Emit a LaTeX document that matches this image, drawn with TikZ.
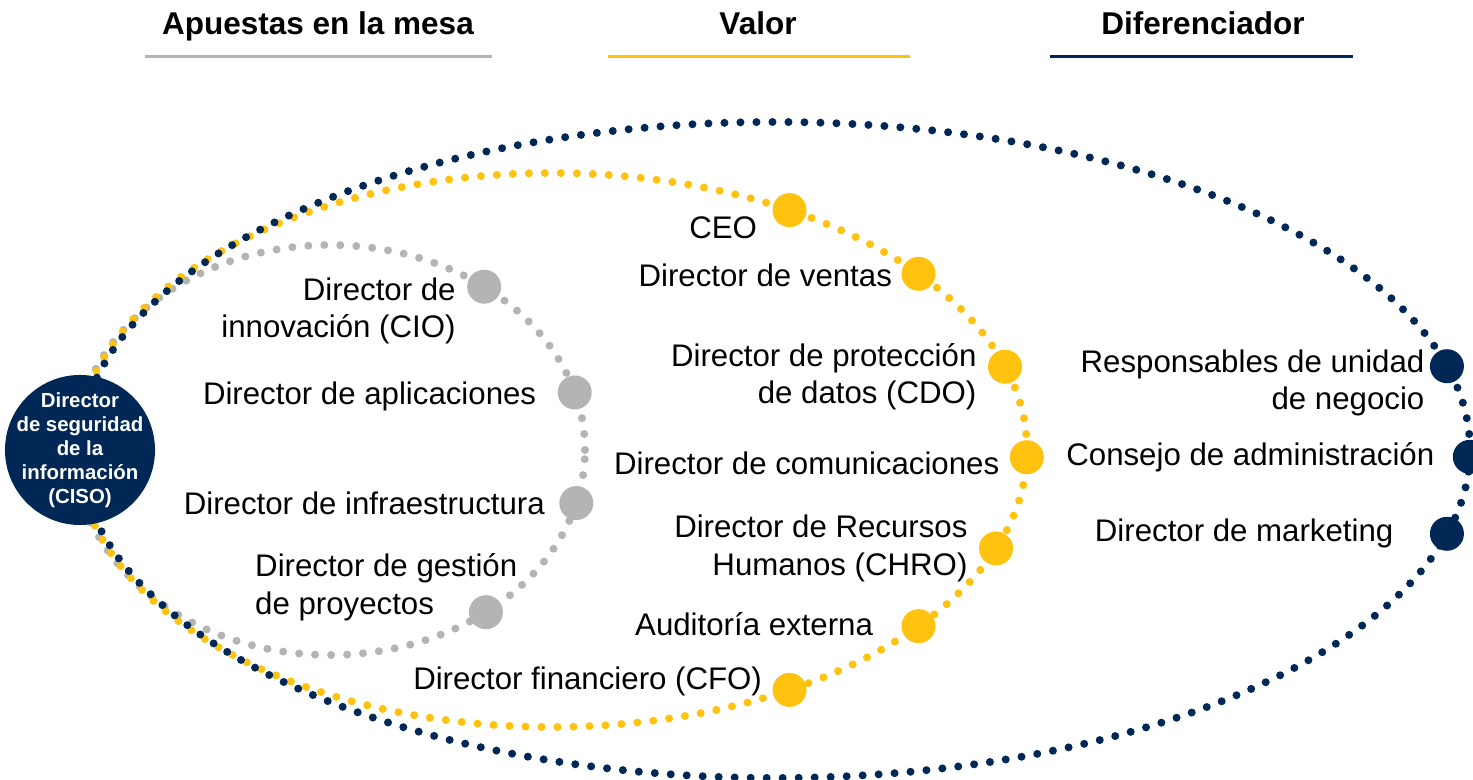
\documentclass[tikz,border=0pt]{standalone}
\usepackage{fontspec}
\setmainfont{Liberation Sans}
\usetikzlibrary{positioning,calc}
\definecolor{navy}{HTML}{002856}
\definecolor{gold}{HTML}{FFC20E}
\definecolor{silver}{HTML}{B4B4B4}

\begin{document}
\begin{tikzpicture}[x=0.025cm,y=0.025cm,node distance=0.25cm,
                    font=\fontsize{22.2}{26.5}\selectfont]
  \tikzstyle{dots}=[line width=0.2cm,line cap=round,dash pattern=on 0pt off 0.4cm]
  \tikzstyle{dot}=[circle,minimum size=0.85cm,inner sep=0pt,draw=none]
  \tikzstyle{lbl}=[inner sep=0pt,align=right]
  \tikzstyle{head}=[font=\fontsize{22.4}{26}\selectfont\bfseries,anchor=base]
  \tikzstyle{bar}=[line width=0.075cm]

  \useasboundingbox (0,0) rectangle (1473,780);

  % headings
  \node[head] (h1) at (318,745) {Apuestas en la mesa};
  \node[head] (h2) at (758,745) {Valor};
  \node[head] (h3) at (1203,745) {Diferenciador};
  \draw[bar,silver] (145,723) -- (492,723);
  \draw[bar,gold] (608,723) -- (910,723);
  \draw[bar,navy] (1050,723) -- (1353,723);

  % loop centres
  \coordinate (gc) at (330,330);
  \coordinate (yc) at (552,330);
  \coordinate (nc) at (775,330);

  \draw[dots,silver] (gc) ellipse [x radius=255,y radius=205];
  \draw[dots,gold] (yc) ellipse [x radius=475,y radius=277];
  \draw[dots,navy] (nc) ellipse [x radius=695,y radius=328];

  % table stakes
  \node[dot,fill=silver] (cio)   at ($(gc)+(52.8:255 and 205)$) {};
  \node[dot,fill=silver] (apps)  at ($(gc)+(16.3:255 and 205)$) {};
  \node[dot,fill=silver] (infra) at ($(gc)+(-15:255 and 205)$) {};
  \node[dot,fill=silver] (pmo)   at ($(gc)+(-52.3:255 and 205)$) {};

  \node[lbl,left=0.275cm of cio,yshift=-0.6cm] {Director de\\innovación (CIO)};
  \node[lbl,left=0.525cm of apps,yshift=-0.1cm] {Director de aplicaciones};
  \node[lbl,left=0.35cm of infra] {Director de infraestructura};
  \node[lbl,align=left,anchor=west] at ($(pmo)+(-231,25)$) {Director de gestión\\de proyectos};

  % value
  \node[dot,fill=gold] (ceo)   at ($(yc)+(60:475 and 277)$) {};
  \node[dot,fill=gold] (sales) at ($(yc)+(39.5:475 and 277)$) {};
  \node[dot,fill=gold] (cdo)   at ($(yc)+(17.5:475 and 277)$) {};
  \node[dot,fill=gold] (comms) at ($(yc)+(-1.5:475 and 277)$) {};
  \node[dot,fill=gold] (chro)  at ($(yc)+(-20.8:475 and 277)$) {};
  \node[dot,fill=gold] (audit) at ($(yc)+(-39.5:475 and 277)$) {};
  \node[dot,fill=gold] (cfo)   at ($(yc)+(-60:475 and 277)$) {};

  \node[lbl,left=0.375cm of ceo,yshift=-0.45cm] {CEO};
  \node[lbl,left=0.225cm of sales,yshift=-0.05cm] {Director de ventas};
  \node[lbl,left=0.275cm of cdo,yshift=-0.25cm] {Director de protección\\de datos (CDO)};
  \node[lbl,left=of comms,yshift=-0.15cm] {Director de comunicaciones};
  \node[lbl,left=0.275cm of chro] {Director de Recursos\\Humanos (CHRO)};
  \node[lbl,left=0.7cm of audit,yshift=0.05cm] {Auditoría externa};
  \node[lbl,left=of cfo,yshift=0.2cm] {Director financiero (CFO)};

  % differentiator
  \node[dot,fill=navy] (bu)    at ($(nc)+(14.8:695 and 328)$) {};
  \node[dot,fill=navy] (board) at ($(nc)+(-1.2:695 and 328)$) {};
  \node[dot,fill=navy] (cmo)   at ($(nc)+(-14.8:695 and 328)$) {};

  \node[lbl,left=0.125cm of bu,yshift=-0.42cm] {Responsables de unidad\\de negocio};
  \node[lbl,left=0.45cm of board] {Consejo de administración};
  \node[lbl,left=0.9cm of cmo] {Director de marketing};

  % CISO
  \node[circle,fill=navy,minimum size=3.75cm,inner sep=0pt] (ciso) at (80,330) {};
  \node[text=white,align=center,inner sep=0pt,
        font=\fontsize{14.5}{17}\selectfont\bfseries] (cisotext) at (ciso)
        {Director\\de seguridad\\de la\\información\\(CISO)};
\end{tikzpicture}
\end{document}
